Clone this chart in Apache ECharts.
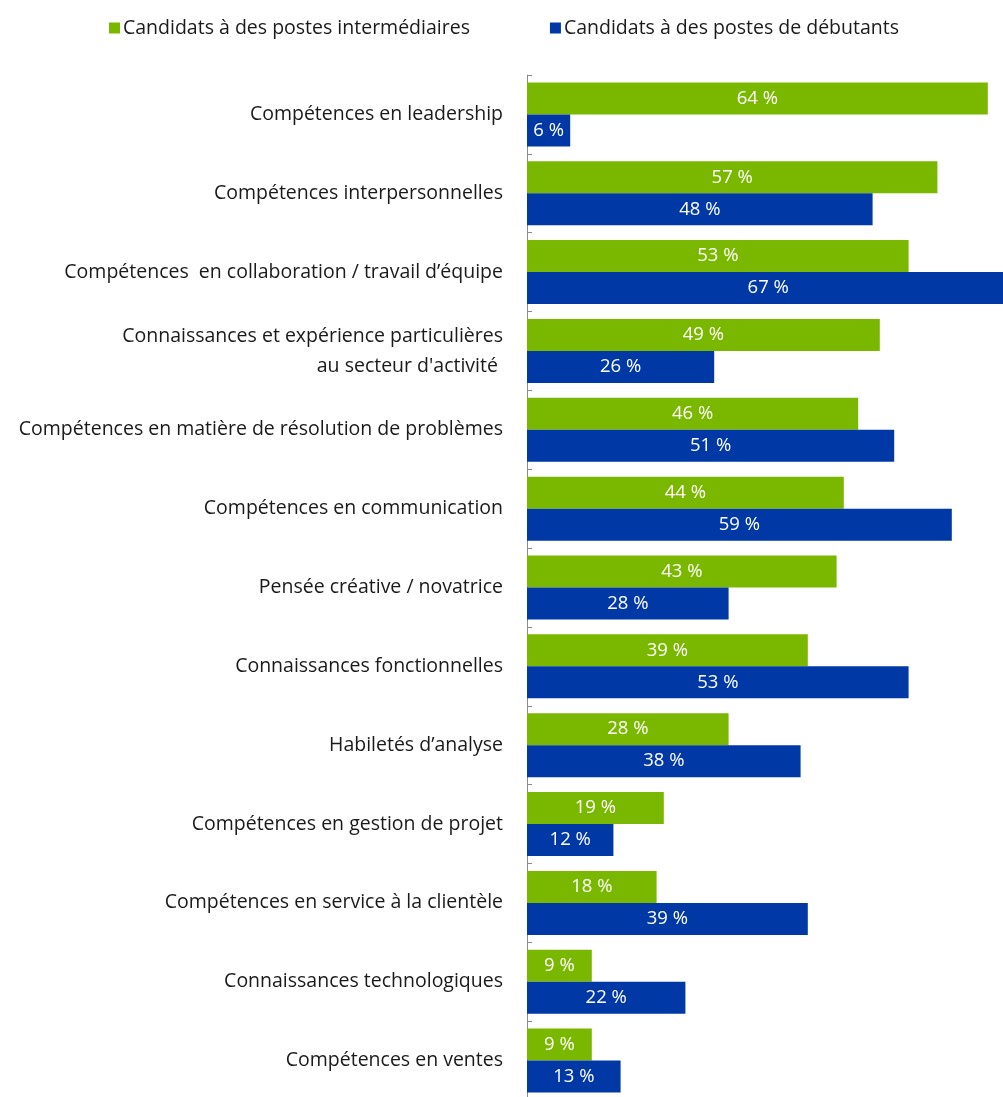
<!DOCTYPE html>
<html>
<head>
<meta charset="utf-8">
<script src="https://cdn.jsdelivr.net/npm/echarts@6/dist/echarts.min.js"></script>
<style>
  html, body { margin: 0; padding: 0; background: #fff; }
  #chart { width: 1003px; height: 1097px; }
</style>
</head>
<body>
<div id="chart"></div>
<script>
// Skills sought by employers, by candidate level (%)
const categories = [
  'Compétences en leadership',
  'Compétences interpersonnelles',
  'Compétences  en collaboration / travail d’équipe',
  'Connaissances et expérience particulières\nau secteur d\'activité ',
  'Compétences en matière de résolution de problèmes',
  'Compétences en communication',
  'Pensée créative / novatrice',
  'Connaissances fonctionnelles',
  'Habiletés d’analyse',
  'Compétences en gestion de projet',
  'Compétences en service à la clientèle',
  'Connaissances technologiques',
  'Compétences en ventes'
];
const intermediate = [64, 57, 53, 49, 46, 44, 43, 39, 28, 19, 18, 9, 9];
const entryLevel = [6, 48, 67, 26, 51, 59, 28, 53, 38, 12, 39, 22, 13];
const seriesNames = [
  'Candidats à des postes intermédiaires',
  'Candidats à des postes de débutants'
];

const FONT = '"Open Sans", Lato, sans-serif';
const GREEN = '#7AB800';
const BLUE = '#0039A6';

const chart = echarts.init(document.getElementById('chart'), null, { renderer: 'canvas' });

const barLabel = {
  show: true,
  position: 'inside',
  color: '#ffffff',
  fontFamily: FONT,
  fontSize: 18.5,
  formatter: p => p.value + ' %'
};

chart.setOption({
  animation: false,
  backgroundColor: '#ffffff',
  legend: {
    top: 13,
    left: 104,
    itemGap: 80,
    itemWidth: 11,
    itemHeight: 11,
    icon: 'rect',
    textStyle: { fontFamily: FONT, fontSize: 19.5, color: '#1a1a1a', padding: [0, 0, 0, -2] },
    data: seriesNames
  },
  grid: {
    left: 527,
    top: 75,
    height: 1025,
    width: 504,
    containLabel: false,
    outerBoundsMode: 'none'
  },
  xAxis: {
    type: 'value',
    min: 0,
    max: 70,
    show: false
  },
  yAxis: {
    type: 'category',
    inverse: true,
    data: categories,
    axisLine: { show: true, lineStyle: { color: '#8c8c8c', width: 1 } },
    axisTick: { show: true, inside: true, length: 5, lineStyle: { color: '#8c8c8c' } },
    axisLabel: {
      margin: 24,
      fontFamily: FONT,
      fontSize: 19.5,
      color: '#1a1a1a',
      lineHeight: 30,
      align: 'right'
    }
  },
  series: [
    {
      name: seriesNames[0],
      type: 'bar',
      data: intermediate,
      barWidth: 32,
      barGap: '0%',
      itemStyle: { color: GREEN },
      label: barLabel
    },
    {
      name: seriesNames[1],
      type: 'bar',
      data: entryLevel,
      barWidth: 32,
      itemStyle: { color: BLUE },
      label: barLabel
    }
  ]
});
</script>
</body>
</html>
